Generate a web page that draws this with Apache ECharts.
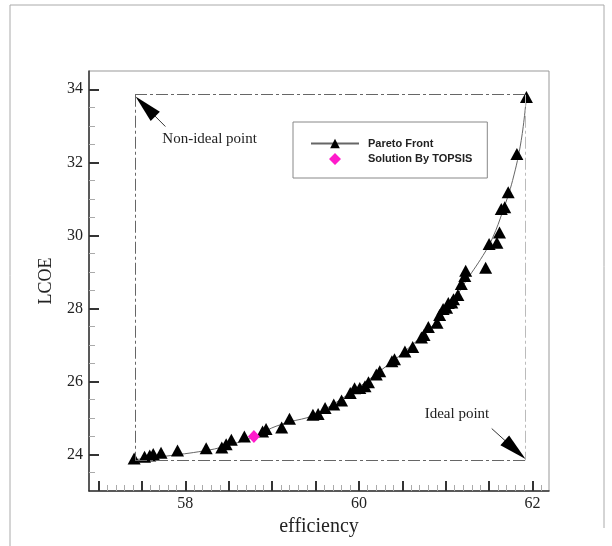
<!DOCTYPE html>
<html>
<head>
<meta charset="utf-8">
<script src="https://cdn.jsdelivr.net/npm/echarts@6/dist/echarts.min.js"></script>
<style>
html,body{margin:0;padding:0;background:#fff;}
#chart{width:612px;height:546px;}
</style>
</head>
<body>
<div id="chart"></div>
<script>
// Pareto front points (efficiency, LCOE)
var paretoEff = [57.41,57.53,57.59,57.63,57.72,57.91,58.24,58.42,58.47,58.53,58.68,58.89,58.93,59.11,59.20,59.47,59.53,59.61,59.71,59.80,59.90,59.95,60.01,60.07,60.11,60.20,60.24,60.38,60.41,60.53,60.62,60.72,60.75,60.80,60.90,60.93,60.97,61.01,61.03,61.07,61.09,61.14,61.18,61.22,61.23,61.46,61.50,61.59,61.62,61.64,61.68,61.72,61.82,61.93];
var paretoLcoe = [23.89,23.94,23.97,24.01,24.05,24.11,24.17,24.19,24.28,24.40,24.49,24.63,24.70,24.74,24.98,25.09,25.11,25.27,25.37,25.48,25.68,25.81,25.82,25.87,25.98,26.19,26.28,26.55,26.61,26.82,26.94,27.20,27.27,27.49,27.61,27.82,27.98,28.02,28.15,28.16,28.25,28.37,28.67,28.89,29.03,29.11,29.76,29.80,30.08,30.72,30.77,31.18,32.23,33.79];
// fitted front curve
var curveEff = [57.42,57.76,58.22,58.45,58.84,58.99,59.20,59.47,59.90,60.24,60.53,60.82,61.06,61.22,61.43,61.54,61.66,61.77,61.87,61.93];
var curveLcoe = [23.86,23.95,24.10,24.22,24.52,24.72,24.89,25.07,25.68,26.28,26.83,27.46,28.10,28.70,29.45,29.93,30.68,31.50,32.60,33.79];
// TOPSIS solution
var topsisEff = [58.79];
var topsisLcoe = [24.49];
// reference points
var nonIdealPoint = [57.42, 33.85];
var idealPoint = [61.92, 23.84];
// arrows: [tail, head]
var nonIdealArrow = [[57.77, 32.98], [57.54, 33.53]];
var idealArrow = [[61.53, 24.71], [61.80, 24.13]];
var nonIdealLabelPos = [58.28, 32.65];
var idealLabelPos = [61.13, 25.10];
// ticks
var xMajorTicks = [57,57.5,58,58.5,59,59.5,60,60.5,61,61.5,62];
var xMinorTicks = [57.1,57.2,57.3,57.4,57.6,57.7,57.8,57.9,58.1,58.2,58.3,58.4,58.6,58.7,58.8,58.9,59.1,59.2,59.3,59.4,59.6,59.7,59.8,59.9,60.1,60.2,60.3,60.4,60.6,60.7,60.8,60.9,61.1,61.2,61.3,61.4,61.6,61.7,61.8,61.9,62.1];
var xTickLabels = [58,60,62];
var yMajorTicks = [24,26,28,30,32,34];
var yMinorTicks = [23.5,24.5,25,25.5,26.5,27,27.5,28.5,29,29.5,30.5,31,31.5,32.5,33,33.5];
var yTickLabels = [24,26,28,30,32,34];

function zip(a, b){ return a.map(function(v,i){ return [v, b[i]]; }); }

var serif = 'Liberation Serif';
var dashDot = [12,3,3,3];
var chart = echarts.init(document.getElementById('chart'), null, {renderer:'canvas'});
var xMin = 56.89, xMax = 62.19, yMin = 23, yMax = 34.5;
// diamond legend icon kept at its own aspect inside the 48x12 legend slot
var diamondIcon = 'path://M0,6L0,6.01Z M48,6L48,6.01Z M24,0L30,6L24,12L18,6Z';

var option = {
  backgroundColor: '#fff',
  animation: false,
  graphic: [{
    type: 'polyline',
    shape: {points: [[10,546],[10,5],[604,5],[604,528]]},
    style: {stroke: '#aaa', lineWidth: 1, fill: null},
    silent: true
  }],
  grid: {left: 89, right: 63, top: 71, bottom: 55, show: true, borderColor: '#999', borderWidth: 1},
  legend: {
    orient: 'vertical', left: 293, top: 122,
    data: [{name: 'Pareto Front'}, {name: 'Solution By TOPSIS', icon: diamondIcon}],
    itemWidth: 48, itemHeight: 12, itemGap: 4,
    padding: [16, 15, 13, 17],
    borderColor: '#888', borderWidth: 1,
    textStyle: {fontFamily: 'Liberation Sans', fontWeight: 'bold', fontSize: 11, color: '#222', padding: [0,0,0,4]}
  },
  xAxis: [{
    type: 'value', min: xMin, max: xMax,
    name: 'efficiency', nameLocation: 'middle', nameGap: 22,
    nameTextStyle: {fontFamily: serif, fontSize: 20, color: '#222'},
    axisLine: {show: true, lineStyle: {color: '#333', width: 1.5}},
    axisTick: {show: true, inside: true, length: 10, customValues: xMajorTicks, lineStyle: {color: '#333', width: 2}},
    axisLabel: {show: true, customValues: xTickLabels, margin: 5, fontFamily: serif, fontSize: 16, color: '#222'},
    splitLine: {show: false}
  }, {
    type: 'value', min: xMin, max: xMax, position: 'bottom',
    axisLine: {show: false},
    axisTick: {show: true, inside: true, length: 6, customValues: xMinorTicks, lineStyle: {color: '#aaa', width: 1}},
    axisLabel: {show: false},
    splitLine: {show: false}
  }],
  yAxis: [{
    type: 'value', min: yMin, max: yMax,
    name: 'LCOE', nameLocation: 'middle', nameGap: 34, nameRotate: 90,
    nameTextStyle: {fontFamily: serif, fontSize: 18, color: '#222'},
    axisLine: {show: true, lineStyle: {color: '#333', width: 1.5}},
    axisTick: {show: true, inside: true, length: 10, customValues: yMajorTicks, lineStyle: {color: '#333', width: 2}},
    axisLabel: {show: true, customValues: yTickLabels, margin: 6, fontFamily: serif, fontSize: 16, color: '#222'},
    splitLine: {show: false}
  }, {
    type: 'value', min: yMin, max: yMax, position: 'left', offset: 0,
    axisLine: {show: false},
    axisTick: {show: true, inside: true, length: 6, customValues: yMinorTicks, lineStyle: {color: '#aaa', width: 1}},
    axisLabel: {show: false},
    splitLine: {show: false}
  }],
  series: [{
    name: 'Pareto Front', type: 'line',
    data: zip(curveEff, curveLcoe),
    smooth: 0.4, symbol: 'triangle', symbolSize: [12, 11], showSymbol: false,
    lineStyle: {color: '#666', width: 1},
    itemStyle: {color: '#000'},
    z: 2, silent: true
  }, {
    name: 'Pareto Front', type: 'scatter',
    data: zip(paretoEff, paretoLcoe),
    symbol: 'triangle', symbolSize: [13, 12],
    itemStyle: {color: '#000', opacity: 1},
    z: 3
  }, {
    name: 'Solution By TOPSIS', type: 'scatter',
    data: zip(topsisEff, topsisLcoe),
    symbol: 'diamond', symbolSize: [12, 13],
    itemStyle: {color: '#ff1acb', opacity: 1},
    z: 4
  }, {
    name: 'annotations', type: 'line', data: [], silent: true,
    markLine: {
      silent: true, animation: false,
      symbol: ['none', 'none'],
      label: {show: false},
      lineStyle: {type: dashDot, color: '#666', width: 1},
      data: [
        [{coord: [nonIdealPoint[0], nonIdealPoint[1]]}, {coord: [idealPoint[0], nonIdealPoint[1]]}],
        [{coord: [nonIdealPoint[0], nonIdealPoint[1]]}, {coord: [nonIdealPoint[0], idealPoint[1]]}],
        [{coord: [nonIdealPoint[0], idealPoint[1]]}, {coord: [idealPoint[0], idealPoint[1]]}],
        [{coord: [idealPoint[0], nonIdealPoint[1]]}, {coord: [idealPoint[0], idealPoint[1]], lineStyle: {color: '#bbb'}}],
        [{coord: nonIdealArrow[0], symbol: 'none'}, {coord: nonIdealArrow[1], symbol: 'triangle', symbolSize: [13, 28], lineStyle: {type: 'solid', color: '#000', width: 0.8}, itemStyle: {color: '#000'}}],
        [{coord: idealArrow[0], symbol: 'none'}, {coord: idealArrow[1], symbol: 'triangle', symbolSize: [13, 28], lineStyle: {type: 'solid', color: '#000', width: 0.8}, itemStyle: {color: '#000'}}]
      ]
    },
    markPoint: {
      silent: true, animation: false,
      symbol: 'rect', symbolSize: 1,
      itemStyle: {color: 'rgba(0,0,0,0)'},
      label: {show: true, position: 'inside', fontFamily: serif, fontSize: 15, color: '#222'},
      data: [
        {coord: nonIdealLabelPos, label: {formatter: 'Non-ideal point'}},
        {coord: idealLabelPos, label: {formatter: 'Ideal point'}}
      ]
    }
  }]
};
chart.setOption(option);
</script>
</body>
</html>
